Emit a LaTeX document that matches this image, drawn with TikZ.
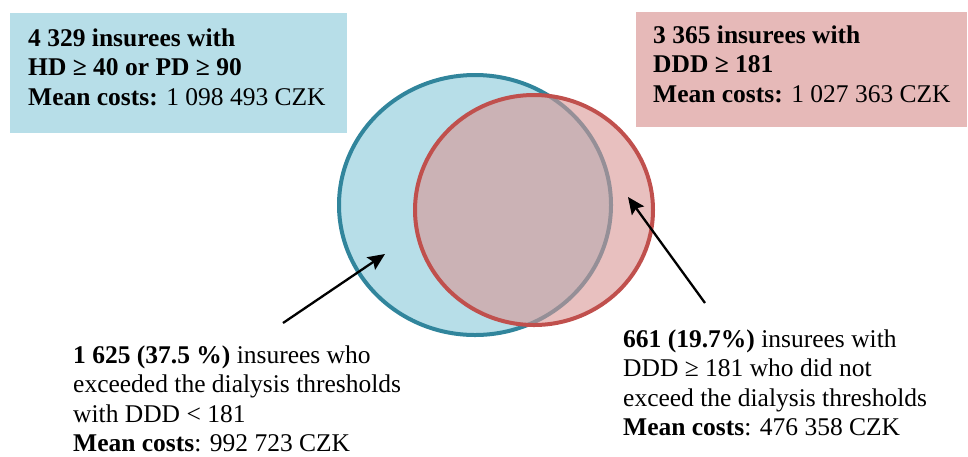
\documentclass[tikz,border=0pt]{standalone}
\usepackage{fontspec}
\setmainfont{Liberation Serif}
\usepackage{tikz}
\usetikzlibrary{shapes.geometric, arrows.meta, positioning}

\definecolor{hdfill}{HTML}{B7DEE8}
\definecolor{hdline}{HTML}{31859C}
\definecolor{dddfill}{HTML}{D99694}
\definecolor{dddbox}{HTML}{E6B9B8}
\definecolor{dddline}{HTML}{C0504D}

\tikzset{
  txt/.style={inner sep=0pt, align=left, anchor=north west,
    font=\fontsize{25.5}{29.5}\selectfont},
  pointer/.style={-{Stealth[length=17pt, width=15pt, inset=3pt]}, line width=2.3pt, black}
}

\begin{document}
\begin{tikzpicture}[x=1pt, y=-1pt]
    \useasboundingbox (0,0) rectangle (968,456);

    % boxes on top
    \node [rectangle, fill=hdfill, minimum width=337pt, minimum height=120pt, anchor=north west, inner sep=0pt] (hdbox) at (10,13) {};
    \node [rectangle, fill=dddbox, minimum width=331pt, minimum height=115pt, anchor=north west, inner sep=0pt] (dddbox) at (636,12) {};
    \node [txt, below right=12.35pt and 18pt of hdbox.north west] (hdtext)
      {\strut\textbf{4 329 insurees with}\\ \textbf{HD ≥ 40 or PD ≥ 90}\\ \textbf{Mean costs:} 1 098 493 CZK};
    \node [txt, below right=10.35pt and 17pt of dddbox.north west] (dddtext)
      {\strut\textbf{3 365 insurees with}\\ \textbf{DDD ≥ 181}\\ \textbf{Mean costs:} 1 027 363 CZK};

    % venn
    \node [ellipse, fill=hdfill, draw=hdline, line width=4pt, minimum width=272pt, minimum height=260pt, inner sep=0pt] (hdset) at (475,205) {};
    \node [ellipse, fill=dddfill, fill opacity=0.6, draw=dddline, line width=4pt, minimum width=238pt, minimum height=230pt, inner sep=0pt] (dddset) at (534,210) {};

    % labels below
    \node [txt] (onlyhd) at (73,342.35)
      {\strut\textbf{1 625 (37.5 \%)} insurees who\\ exceeded the dialysis thresholds\\ with DDD < 181\\ \textbf{Mean costs}: 992 723 CZK};
    \node [txt] (onlyddd) at (623,326.35)
      {\strut\textbf{661 (19.7\%)} insurees with\\ DDD ≥ 181 who did not\\ exceed the dialysis thresholds\\ \textbf{Mean costs}: 476 358 CZK};

    \coordinate (hdtail) at (283,323);
    \coordinate (hdtip) at (385,254);
    \coordinate (dddtail) at (705,303);
    \coordinate (dddtip) at (628,197);

    \draw [pointer] (hdtail) -- (hdtip);
    \draw [pointer] (dddtail) -- (dddtip);
\end{tikzpicture}
\end{document}
